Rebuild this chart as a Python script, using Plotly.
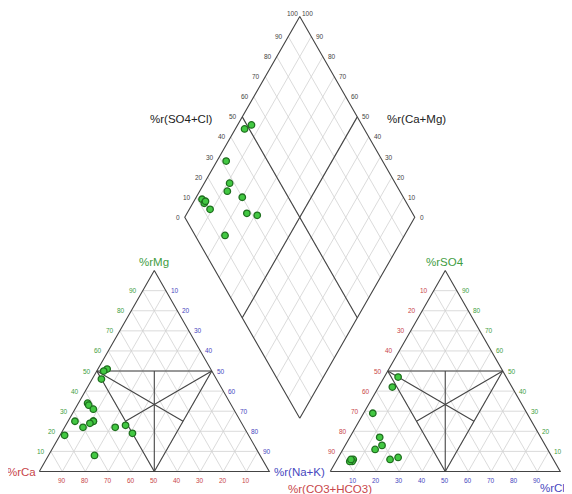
import math
import plotly.graph_objects as go

# ---------------- data (percent) ----------------
ticks = [10, 20, 30, 40, 50, 60, 70, 80, 90]

# cation triangle: %rMg (apex), %r(Na+K) (bottom right); %rCa = rest
cat_mg = [51, 50, 46, 34, 33, 31, 25, 22, 25, 25, 24, 22, 23, 19, 18, 8]
cat_na = [4, 3, 4, 4, 5, 8, 3, 8, 11, 11, 10, 22, 26, 31, 2, 20]

# anion triangle: %rSO4 (apex), %rCl (bottom right); %r(CO3+HCO3) = rest
an_so4 = [47, 42, 29, 17, 13, 11, 7, 6, 6, 5, 5, 6]
an_cl = [6, 6, 4, 13, 16, 14, 26, 23, 7, 7, 6, 6]

# diamond: %r(SO4+Cl), %r(Ca+Mg)
dia_so4cl = [52, 48, 32, 28, 25, 30, 12, 12, 13, 13, 28, 32, 13]
dia_camg = [94, 96, 96, 89, 88, 80, 97, 95, 95, 91, 74, 69, 78]

# ---------------- geometry ----------------
SQ = math.sqrt(3) / 2
H = 100 * SQ
GAP = 26.5
XL, XR = 0.0, 100.0 + GAP
BX, BY = 100.0 + GAP / 2, GAP * SQ
UX, UY = 50.0, H      # bottom -> right vertex of the diamond
VX, VY = -50.0, H     # bottom -> left vertex of the diamond

GREEN = "#3f9d3f"
RED = "#c8464a"
BLUE = "#4848c0"
DARK = "#444444"
GRID = "#d2d2d2"
FONT = "Liberation Sans, Arial, sans-serif"


def tri(a, b, c, x0):
    s = a + b + c
    a, c = a / s, c / s
    return x0 + 100 * c + 50 * a, H * a


def dia(s, c):
    return BX + s * UX + c * VX, BY + s * UY + c * VY


def seg(xs, ys, p, q):
    xs += [p[0], q[0], None]
    ys += [p[1], q[1], None]


# ---------------- grid lines ----------------
gx, gy = [], []
for v in ticks:
    f = v / 100
    for x0 in (XL, XR):
        seg(gx, gy, tri(f, 1 - f, 0, x0), tri(f, 0, 1 - f, x0))
        seg(gx, gy, tri(0, f, 1 - f, x0), tri(1 - f, f, 0, x0))
        seg(gx, gy, tri(0, 1 - f, f, x0), tri(1 - f, 0, f, x0))
    seg(gx, gy, dia(f, 0), dia(f, 1))
    seg(gx, gy, dia(0, f), dia(1, f))

# ---------------- outlines and facies lines ----------------
ox, oy = [], []


def mid(p, q):
    return ((p[0] + q[0]) / 2, (p[1] + q[1]) / 2)


for x0 in (XL, XR):
    A, Bv, C = tri(1, 0, 0, x0), tri(0, 1, 0, x0), tri(0, 0, 1, x0)
    ox += [Bv[0], C[0], A[0], Bv[0], None]
    oy += [Bv[1], C[1], A[1], Bv[1], None]
    Ml, Mr, Mb = tri(1, 1, 0, x0), tri(1, 0, 1, x0), tri(0, 1, 1, x0)
    seg(ox, oy, Ml, Mr)
    seg(ox, oy, Mb, Ml)
    seg(ox, oy, Mb, Mr)
    seg(ox, oy, Mb, mid(Ml, Mr))
    seg(ox, oy, Ml, mid(Mb, Mr))
    seg(ox, oy, Mr, mid(Ml, Mb))
Dt, Dl, Dr, Db = dia(1, 1), dia(0, 1), dia(1, 0), dia(0, 0)
ox += [Db[0], Dr[0], Dt[0], Dl[0], Db[0], None]
oy += [Db[1], Dr[1], Dt[1], Dl[1], Db[1], None]
seg(ox, oy, dia(0.5, 1), dia(0.5, 0))
seg(ox, oy, dia(1, 0.5), dia(0, 0.5))

fig = go.Figure()
fig.add_trace(go.Scatter(x=gx, y=gy, mode="lines", line=dict(color=GRID, width=0.8),
                         hoverinfo="skip", showlegend=False))
fig.add_trace(go.Scatter(x=ox, y=oy, mode="lines", line=dict(color=DARK, width=1.1),
                         hoverinfo="skip", showlegend=False))

# ---------------- samples ----------------
mk = dict(symbol="circle", size=6.5, color="#42c842", line=dict(color="#1f6f1f", width=1.3))
cx, cy = zip(*[tri(m, 100 - m - n, n, XL) for m, n in zip(cat_mg, cat_na)])
axp, ayp = zip(*[tri(s, 100 - s - c, c, XR) for s, c in zip(an_so4, an_cl)])
dx, dy = zip(*[dia(s / 100, c / 100) for s, c in zip(dia_so4cl, dia_camg)])
for xs, ys in ((cx, cy), (axp, ayp), (dx, dy)):
    fig.add_trace(go.Scatter(x=list(xs), y=list(ys), mode="markers", marker=mk,
                             showlegend=False))


# ---------------- tick labels ----------------
def lab(p, text, color, xa="center", ya="middle", xs=0, ys=0, size=6.5):
    fig.add_annotation(x=p[0], y=p[1], text=text, showarrow=False, xanchor=xa, yanchor=ya,
                       xshift=xs, yshift=ys, font=dict(size=size, color=color, family=FONT))


for v in ticks:
    f = v / 100
    # cation triangle
    lab(tri(f, 1 - f, 0, XL), str(v), GREEN, xa="right", xs=-4)
    lab(tri(f, 0, 1 - f, XL), str(100 - v), BLUE, xa="left", xs=3)
    lab(tri(0, f, 1 - f, XL), str(v), RED, ya="top", ys=-3)
    # anion triangle
    lab(tri(f, 1 - f, 0, XR), str(100 - v), RED, xa="right", xs=-4)
    lab(tri(f, 0, 1 - f, XR), str(v), GREEN, xa="left", xs=3)
    lab(tri(0, 1 - f, f, XR), str(v), BLUE, ya="top", ys=-3)

for v in [0] + ticks:
    f = v / 100
    lab(dia(f, 1), str(v), DARK, xa="right", xs=-3)
    lab(dia(1, f), str(v), DARK, xa="left", xs=3)
lab(Dt, "100", DARK, xa="right", ya="bottom", xs=0, ys=-3)
lab(Dt, "100", DARK, xa="left", ya="bottom", xs=0, ys=-3)

# ---------------- axis titles ----------------
TS = 11.5
lab(tri(1, 0, 0, XL), "%rMg", GREEN, ya="bottom", ys=1, size=TS)
lab(tri(0, 1, 0, XL), "%rCa", RED, xa="right", xs=-1, size=TS)
lab(tri(0, 0, 1, XL), "%r(Na+K)", BLUE, xa="left", xs=3, size=TS)
lab(tri(1, 0, 0, XR), "%rSO4", GREEN, ya="bottom", ys=1, size=TS)
lab(tri(0, 1, 0, XR), "%r(CO3+HCO3)", RED, ya="top", ys=-9, size=TS)
lab(tri(0, 0, 1, XR), "%rCl", BLUE, ya="top", ys=-8, xs=-8, size=TS)
lab(dia(0.5, 1), "%r(SO4+Cl)", "#222222", xa="right", xs=-28, ys=-2, size=TS)
lab(dia(1, 0.5), "%r(Ca+Mg)", "#222222", xa="left", xs=28, ys=-2, size=TS)

# page body has an 8 px margin: the figure is sized so it fits the 572x494 window
PAGE_MARGIN = 8
W, HH = 572 - PAGE_MARGIN, 494 - PAGE_MARGIN
KX, KY = 2.3, 2.32
X0PX, Y0PX = 39.3 - PAGE_MARGIN, 471.5 - PAGE_MARGIN
fig.update_layout(
    width=W, height=HH, margin=dict(l=0, r=0, t=0, b=0),
    paper_bgcolor="white", plot_bgcolor="white",
    xaxis=dict(range=[-X0PX / KX, (W - X0PX) / KX], visible=False, fixedrange=True),
    yaxis=dict(range=[(Y0PX - HH) / KY, Y0PX / KY], visible=False, fixedrange=True),
    showlegend=False,
)
fig.write_html("out.html")
